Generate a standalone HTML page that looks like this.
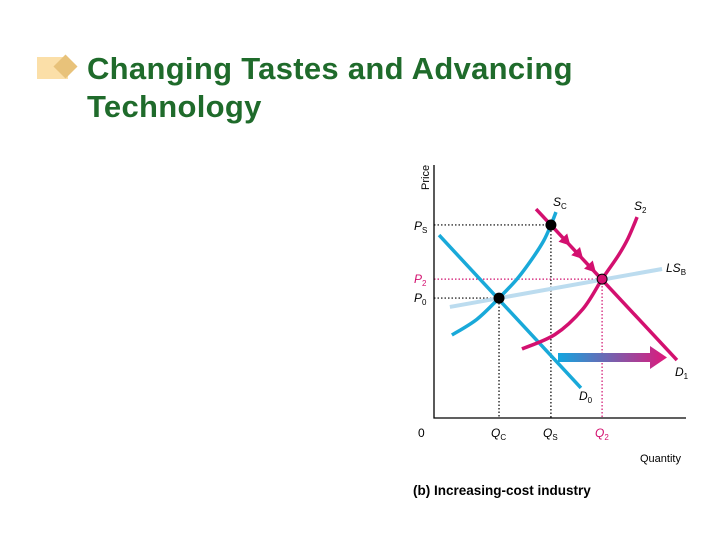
<!DOCTYPE html>
<html><head><meta charset="utf-8"><style>
body{margin:0;background:#fff;width:720px;height:540px;overflow:hidden;position:relative;font-family:"Liberation Sans",sans-serif}
#title{position:absolute;left:87px;top:50px;font-size:31px;font-weight:bold;color:#1f6b2b;line-height:38px;margin:0;letter-spacing:0.3px}
svg{position:absolute;left:0;top:0}
</style></head><body>
<div style="position:absolute;left:37px;top:57px;width:31px;height:22px;background:#fbdfa8"></div>
<div style="position:absolute;left:57px;top:58px;width:17px;height:17px;background:#e8c27a;transform:rotate(45deg)"></div>
<h1 id="title">Changing Tastes and Advancing<br>Technology</h1>
<svg id="chart" width="720" height="540" xmlns="http://www.w3.org/2000/svg"></svg>
<script>
const D0=[[0.2,7.23],[5.83,1.19]];
const D1=[[4.05,8.26],[9.64,2.29]];
const LS=[[0.63,4.39],[9.05,5.89]];
const S0=[[0.71,3.28],[1.7,3.9],[2.58,4.74],[3.3,5.5],[3.9,6.3],[4.35,7.0],[4.64,7.63],[4.84,8.14]];
const S2=[[3.49,2.73],[4.8,3.3],[5.9,4.3],[6.67,5.49],[7.3,6.4],[7.7,7.1],[8.06,7.94]];
const eqQ=[2.58,4.64,6.67];
const eqP=[4.74,7.63,5.49];
const X=q=>434+q*25.2, Y=p=>418-p*25.3;
const svg=document.getElementById('chart');
const NS='http://www.w3.org/2000/svg';
function mk(t,a,name){const e=document.createElementNS(NS,t);for(const k in a)e.setAttribute(k,a[k]);


svg.appendChild(e);return e;}
function smooth(pts){let p=pts.map(d=>[X(d[0]),Y(d[1])]);let s='M'+p[0][0]+','+p[0][1];
for(let i=0;i<p.length-1;i++){const a=p[Math.max(i-1,0)],b=p[i],c=p[i+1],d=p[Math.min(i+2,p.length-1)];
s+=` C${b[0]+(c[0]-a[0])/6},${b[1]+(c[1]-a[1])/6} ${c[0]-(d[0]-b[0])/6},${c[1]-(d[1]-b[1])/6} ${c[0]},${c[1]}`;}return s;}
const defs=mk('defs',{},'defs');
defs.innerHTML='<linearGradient id="g" x1="0" x2="1"><stop offset="0" stop-color="#12a6e0"/><stop offset="1" stop-color="#e0187a"/></linearGradient>';
const gl=[['#000',eqQ[0],eqP[0]],['#000',eqQ[1],eqP[1]],['#d0106e',eqQ[2],eqP[2]]];
gl.forEach((g,i)=>{mk('polyline',{points:`${X(0)},${Y(g[2])} ${X(g[1])},${Y(g[2])} ${X(g[1])},${Y(0)}`,fill:'none',stroke:g[0],'stroke-width':1.2,'stroke-dasharray':'1.5,2'},'guide-line-'+i);});
mk('path',{d:`M${X(LS[0][0])},${Y(LS[0][1])} L${X(LS[1][0])},${Y(LS[1][1])}`,stroke:'#bcdcef','stroke-width':4,fill:'none'},'ls-curve');
mk('path',{d:`M${X(D0[0][0])},${Y(D0[0][1])} L${X(D0[1][0])},${Y(D0[1][1])}`,stroke:'#19a9d9','stroke-width':3.5,fill:'none'},'d0-curve');
mk('path',{d:smooth(S0),stroke:'#19a9d9','stroke-width':3.5,fill:'none'},'s0-curve');
mk('path',{d:smooth(S2),stroke:'#d3106f','stroke-width':3.5,fill:'none'},'s2-curve');
mk('path',{d:`M${X(D1[0][0])},${Y(D1[0][1])} L${X(D1[1][0])},${Y(D1[1][1])}`,stroke:'#d3106f','stroke-width':3.5,fill:'none'},'d1-curve');
const ang=Math.atan2(Y(eqP[2])-Y(eqP[1]),X(eqQ[2])-X(eqQ[1]))*180/Math.PI;
[0.3,0.55,0.8].forEach((t,i)=>{const x=X(eqQ[1])+t*(X(eqQ[2])-X(eqQ[1])),y=Y(eqP[1])+t*(Y(eqP[2])-Y(eqP[1]));
mk('polygon',{points:'6,0 -5,-6 -5,6',fill:'#d3106f',transform:`translate(${x},${y}) rotate(${ang})`},'path-arrow-'+i);});
mk('polygon',{points:'558,353 650,353 650,346 667,357.5 650,369 650,362 558,362',fill:'url(#g)'},'demand-shift-arrow');
mk('path',{d:`M${X(0)},165 L${X(0)},${Y(0)} L686,${Y(0)}`,stroke:'#000','stroke-width':1.3,fill:'none'},'axes');
[['#000',0],['#000',1],['#d3106f',2]].forEach(p=>{mk('circle',{cx:X(eqQ[p[1]]),cy:Y(eqP[p[1]]),r:5,fill:p[0],stroke:'#000','stroke-width':1},'equilibrium-point-'+p[1]);});
function tx(x,y,s,name,attrs){const e=mk('text',Object.assign({x:x,y:y,'font-family':'Liberation Sans, sans-serif','font-size':12,fill:'#000'},attrs||{}),name);e.innerHTML=s;return e;}
tx(429,190,'Price','y-axis-title',{transform:'rotate(-90 429 190)','font-size':11});
tx(640,462,'Quantity','x-axis-title',{'font-size':11});
tx(418,437,'0','origin-label');
tx(414,230,'<tspan font-style="italic">P</tspan><tspan font-size="8" dy="3">S</tspan>','ps-label');
tx(414,283,'<tspan font-style="italic">P</tspan><tspan font-size="8" dy="3">2</tspan>','p2-label',{fill:'#d3106f'});
tx(414,302,'<tspan font-style="italic">P</tspan><tspan font-size="8" dy="3">0</tspan>','p0-label');
tx(491,437,'<tspan font-style="italic">Q</tspan><tspan font-size="8" dy="3">C</tspan>','qc-label');
tx(543,437,'<tspan font-style="italic">Q</tspan><tspan font-size="8" dy="3">S</tspan>','qs-label');
tx(595,437,'<tspan font-style="italic">Q</tspan><tspan font-size="8" dy="3">2</tspan>','q2-label',{fill:'#d3106f'});
tx(553,206,'<tspan font-style="italic">S</tspan><tspan font-size="8" dy="3">C</tspan>','s0-label');
tx(634,210,'<tspan font-style="italic">S</tspan><tspan font-size="8" dy="3">2</tspan>','s2-label');
tx(666,272,'<tspan font-style="italic">LS</tspan><tspan font-size="8" dy="3">B</tspan>','ls-label');
tx(675,376,'<tspan font-style="italic">D</tspan><tspan font-size="8" dy="3">1</tspan>','d1-label');
tx(579,400,'<tspan font-style="italic">D</tspan><tspan font-size="8" dy="3">0</tspan>','d0-label');
tx(413,495,'(b) Increasing-cost industry','chart-caption',{'font-weight':'bold','font-size':13.5});
</script>
</body></html>
